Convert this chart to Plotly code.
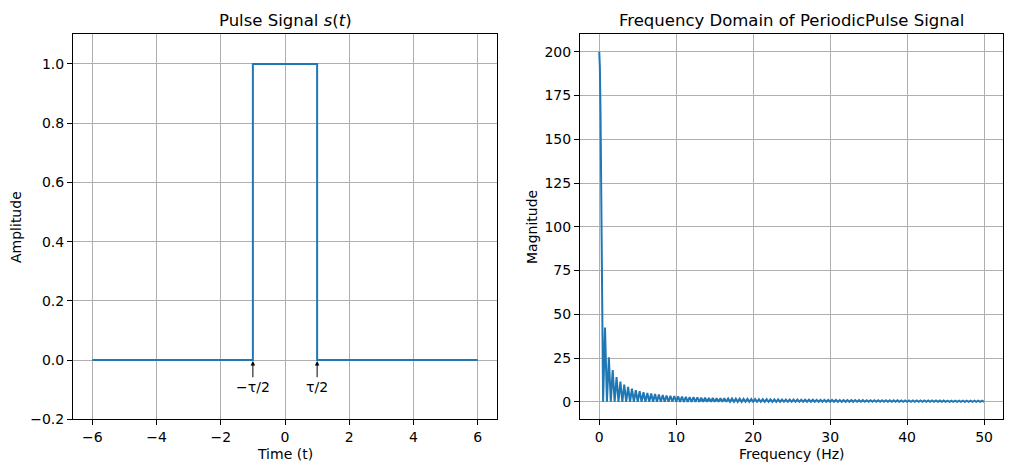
import numpy as np
import plotly.graph_objects as go

# ---------------- Data ----------------
# Left: pulse signal s(t)
pulse_t = [-6, -1, -1, 1, 1, 6]
pulse_s = [0, 0, 1, 1, 0, 0]

# Right: magnitude spectrum
main_lobe_f = [0.0, 0.083, 0.167, 0.25, 0.333, 0.417, 0.5]
main_lobe_mag = [200, 191, 165, 127, 83, 38, 0]

lobe_width_hz = 0.5
side_lobe_peaks = [
    42.4, 25.5, 18.2, 14.1, 11.6, 9.8, 8.5, 7.5, 6.7, 6.1,
    5.5, 5.1, 4.7, 4.4, 4.1, 3.9, 3.6, 3.4, 3.3, 3.1,
    3.0, 2.8, 2.7, 2.6, 2.5, 2.4, 2.3, 2.2, 2.2, 2.1,
    2.0, 2.0, 1.9, 1.85, 1.8, 1.75, 1.7, 1.65, 1.6, 1.57,
    1.53, 1.5, 1.46, 1.43, 1.4, 1.37, 1.34, 1.31, 1.29, 1.26,
    1.24, 1.21, 1.19, 1.17, 1.15, 1.13, 1.11, 1.09, 1.07, 1.05,
    1.04, 1.02, 1.0, 0.99, 0.97, 0.96, 0.94, 0.93, 0.92, 0.9,
    0.89, 0.88, 0.87, 0.85, 0.84, 0.83, 0.82, 0.81, 0.8, 0.79,
    0.78, 0.77, 0.76, 0.75, 0.74, 0.74, 0.73, 0.72, 0.71, 0.7,
    0.7, 0.69, 0.68, 0.67, 0.67, 0.66, 0.65, 0.65, 0.64,
]

x_ticks_left = [-6, -4, -2, 0, 2, 4, 6]
y_ticks_left = [-0.2, 0.0, 0.2, 0.4, 0.6, 0.8, 1.0]
x_ticks_right = [0, 10, 20, 30, 40, 50]
y_ticks_right = [0, 25, 50, 75, 100, 125, 150, 175, 200]

# Build spectrum polyline from read values
freq = list(main_lobe_f)
mag = list(main_lobe_mag)
for k, pk in enumerate(side_lobe_peaks, start=1):
    start = k * lobe_width_hz
    freq += [start + lobe_width_hz / 2, start + lobe_width_hz]
    mag += [pk, 0]

# ---------------- Figure ----------------
W, H = 1012, 472
BLUE = "#1f77b4"
FONT = "DejaVu Sans"

def px_x(p):
    return p / W

def px_y(p):
    return 1 - p / H

fig = go.Figure()
fig.add_trace(go.Scatter(x=pulse_t, y=pulse_s, mode="lines",
                         line=dict(color=BLUE, width=2), xaxis="x", yaxis="y",
                         showlegend=False, hoverinfo="skip"))
fig.add_trace(go.Scatter(x=freq, y=mag, mode="lines",
                         line=dict(color=BLUE, width=2), xaxis="x2", yaxis="y2",
                         showlegend=False, hoverinfo="skip"))

axis_common = dict(showline=True, mirror=True, linecolor="black", linewidth=1,
                   ticks="outside", ticklen=5, tickwidth=1, tickcolor="black",
                   showgrid=True, gridcolor="#b0b0b0", gridwidth=1,
                   zeroline=False, automargin=False,
                   tickfont=dict(family=FONT, size=14, color="black"))

fig.update_layout(
    width=W, height=H, margin=dict(l=0, r=0, t=0, b=0, autoexpand=False),
    paper_bgcolor="white", plot_bgcolor="white", showlegend=False,
    xaxis=dict(domain=[px_x(73), px_x(497)], range=[-6.6, 6.6], tickvals=x_ticks_left,
               ticktext=[str(v).replace("-", "\u2212") for v in x_ticks_left],
               anchor="y", **axis_common),
    yaxis=dict(domain=[px_y(419.3), px_y(34.3)], range=[-0.2, 1.1], tickvals=y_ticks_left,
               ticktext=[f"{v:.1f}".replace("-", "\u2212") for v in y_ticks_left],
               anchor="x", **axis_common),
    xaxis2=dict(domain=[px_x(580), px_x(1003.3)], range=[-2.5, 52.5], tickvals=x_ticks_right,
                anchor="y2", **axis_common),
    yaxis2=dict(domain=[px_y(419.3), px_y(34.3)], range=[-10, 210], tickvals=y_ticks_right,
                anchor="x2", **axis_common),
)

anns = []
# Titles
anns.append(dict(text="Pulse Signal <i>s</i>(<i>t</i>)", x=px_x(285), y=px_y(20),
                 xref="paper", yref="paper", showarrow=False,
                 font=dict(family=FONT, size=16.5, color="black"),
                 xanchor="center", yanchor="middle"))
anns.append(dict(text="Frequency Domain of PeriodicPulse Signal", x=px_x(791.5), y=px_y(20),
                 xref="paper", yref="paper", showarrow=False,
                 font=dict(family=FONT, size=16.5, color="black"),
                 xanchor="center", yanchor="middle"))
# Axis labels
anns.append(dict(text="Time (t)", x=px_x(285), y=px_y(454), xref="paper", yref="paper",
                 showarrow=False, font=dict(family=FONT, size=14, color="black"),
                 xanchor="center", yanchor="middle"))
anns.append(dict(text="Frequency (Hz)", x=px_x(791.5), y=px_y(454), xref="paper", yref="paper",
                 showarrow=False, font=dict(family=FONT, size=14, color="black"),
                 xanchor="center", yanchor="middle"))
anns.append(dict(text="Amplitude", x=px_x(16), y=px_y(227), xref="paper", yref="paper",
                 showarrow=False, textangle=-90, font=dict(family=FONT, size=14, color="black"),
                 xanchor="center", yanchor="middle"))
anns.append(dict(text="Magnitude", x=px_x(532), y=px_y(227), xref="paper", yref="paper",
                 showarrow=False, textangle=-90, font=dict(family=FONT, size=14, color="black"),
                 xanchor="center", yanchor="middle"))
# Tau annotations with arrows
for xv, label in [(-1, "\u2212\u03c4/2"), (1, "\u03c4/2")]:
    anns.append(dict(text=label, x=xv, y=0, xref="x", yref="y",
                     ax=xv, ay=-0.09, axref="x", ayref="y",
                     showarrow=True, arrowhead=2, arrowsize=0.9, arrowwidth=1,
                     arrowcolor="black", standoff=1,
                     font=dict(family=FONT, size=14, color="black")))
fig.update_layout(annotations=anns)

fig.write_html("out.html",
               config={"displayModeBar": False},
               post_script="document.body.style.margin='0';document.body.style.padding='0';")
